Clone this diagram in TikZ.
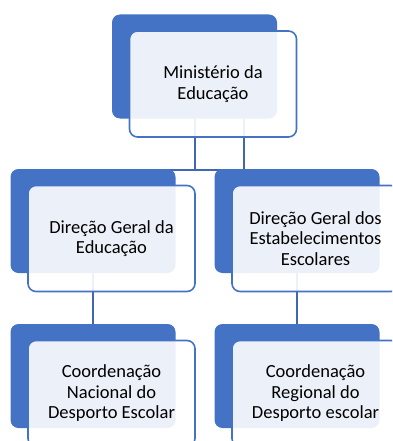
\documentclass[tikz,border=0pt]{standalone}
\usepackage{fontspec}
\setmainfont{Carlito}
\usetikzlibrary{backgrounds}
\definecolor{orgblue}{HTML}{4472C4}
\definecolor{linkblue}{HTML}{3F67B5}
\begin{document}
\begin{tikzpicture}[x=1pt, y=-1pt, node distance=204pt,
    back/.style={fill=orgblue, rounded corners=8pt, minimum width=165pt, minimum height=104pt, inner sep=0pt},
    front/.style={draw=orgblue, line width=1.6pt, fill=white, fill opacity=0.9, text opacity=1, rounded corners=8pt,
        minimum width=167pt, minimum height=106pt, inner sep=0pt, align=center,
        font=\fontsize{18.5}{20.5}\selectfont, xshift=18.5pt, yshift=-17.5pt},
    link/.style={draw=linkblue, line width=2pt}]
    \useasboundingbox (0,0) rectangle (392,441);
    \clip (0,0) rectangle (392,441);
    % blue back panels
    \node[back] (b0) at (194.5,66.5) {};
    \node[back] (b1) at (93,221) {};
    \node[back] (b2) [right of=b1] {};
    \node[back] (b3) [below of=b1, node distance=155pt] {};
    \node[back] (b4) [below of=b2, node distance=155pt] {};
    % text panels
    \node[front] (f0) at (b0) {Ministério da\\Educação};
    \node[front] (f1) at (b1) {Direção Geral da\\Educação};
    \node[front] (f2) at (b2) {Direção Geral dos\\Estabelecimentos\\Escolares};
    \node[front] (f3) at (b3) {Coordenação\\Nacional do\\Desporto Escolar};
    \node[front] (f4) at (b4) {Coordenação\\Regional do\\Desporto escolar};
    \coordinate (t1) at ([xshift=49pt]b0.south);
    \coordinate (h1) at ([yshift=-1pt]b1.north);
    \coordinate (h2) at ([yshift=-1pt]b2.north);
    \begin{scope}[on background layer]
        \draw[link] (b0.south) -- (b0.south |- h1);
        \draw[link] (h1) -- (h2);
        \draw[link] (t1) -- (t1 |- b2.north);
        \draw[link] (b1.south) -- (b3.north);
        \draw[link] (b2.south) -- (b4.north);
    \end{scope}
\end{tikzpicture}
\end{document}
